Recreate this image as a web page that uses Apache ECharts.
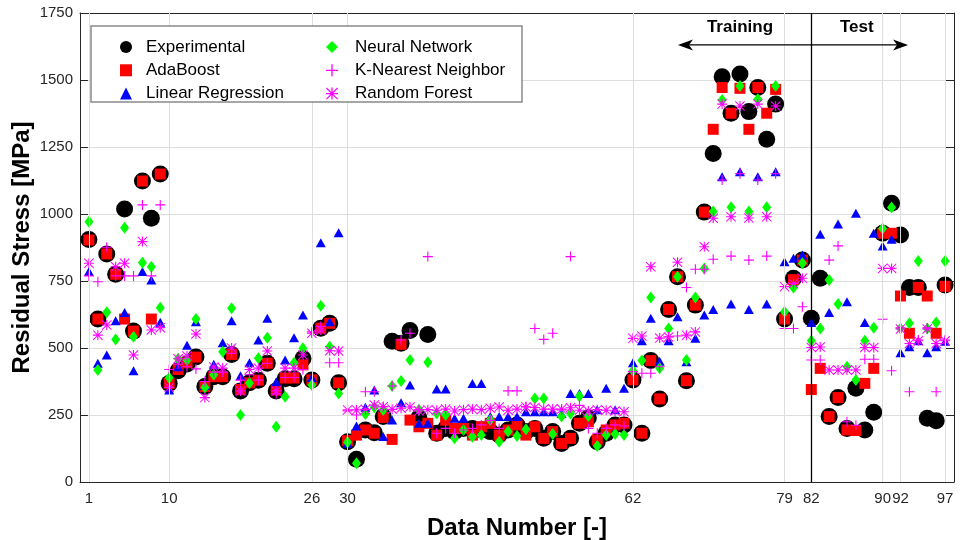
<!DOCTYPE html>
<html><head><meta charset="utf-8">
<script src="https://cdn.jsdelivr.net/npm/echarts@6/dist/echarts.min.js"></script>
<style>html,body{margin:0;padding:0;background:#fff}#c{width:964px;height:540px}</style>
</head><body><div id="c"></div>
<script>
// ---- data ----
const dataNumbers = Array.from({length: 97}, (_, i) => i + 1);
const xTickValues = [1, 10, 26, 30, 62, 79, 82, 90, 92, 97];
const trainTestSplit = 82;

const experimental = [905,608,851,775,1019,563,1123,984,1149,368,
415,440,466,356,393,393,476,340,370,380,
443,340,385,385,461,381,574,592,370,150,
85,194,184,244,525,518,565,240,550,182,
200,188,200,200,195,188,175,194,213,188,
200,163,188,144,163,219,240,150,182,213,
213,381,182,453,310,644,766,378,660,1007,
1226,1512,1376,1522,1382,1472,1279,1410,608,760,
828,611,760,244,315,200,350,194,260,928,
1040,922,726,726,238,229,735];

const adaBoost = [903,608,851,775,608,563,1123,608,1149,368,
420,445,466,356,393,393,476,345,370,380,
443,343,388,388,437,381,574,592,370,154,
175,194,182,241,159,514,231,206,219,175,
231,200,200,175,206,219,175,194,213,175,
206,163,188,144,163,219,225,157,194,213,
219,381,182,453,310,644,766,378,660,1007,
1316,1472,1376,1469,1316,1472,1376,1465,608,755,
828,345,424,244,315,194,192,368,424,928,
928,694,555,726,694,555,730];

const linearRegression = [785,443,474,602,632,415,785,754,596,343,
430,510,598,360,439,520,602,396,445,530,
611,374,455,538,623,390,893,598,930,145,
209,279,343,170,231,296,362,219,219,347,
347,238,238,368,368,244,244,244,244,262,
262,262,262,256,330,330,330,270,350,270,
350,445,527,611,451,527,617,449,536,623,
644,1139,664,1158,644,1139,664,1158,822,835,
847,595,924,632,963,673,1003,595,928,881,
906,482,505,527,482,505,525];

const neuralNetwork = [971,418,633,532,949,542,818,803,650,389,
460,455,608,353,400,486,648,250,369,462,
538,206,318,445,499,362,658,505,330,148,
70,254,279,269,358,377,455,270,447,256,
250,163,194,169,175,231,150,188,172,197,
312,312,179,244,256,320,246,134,175,179,
175,415,453,688,424,573,766,455,688,797,
1009,1425,1025,1478,1009,1428,1025,1478,635,726,
816,527,573,754,664,430,381,527,576,946,
1024,573,592,825,573,595,825];

const kNearestNeighbor = [769,747,876,769,769,769,1034,769,1034,420,
440,430,422,375,410,410,480,380,400,380,
443,329,390,390,420,560,580,445,445,265,
250,337,337,281,358,530,555,270,841,182,
200,182,194,200,213,230,200,340,340,281,
573,532,555,269,841,286,200,182,200,213,
209,412,406,406,430,542,545,726,794,794,
831,1127,843,1150,828,1127,843,1150,573,573,
654,455,455,828,881,225,212,458,458,607,
415,575,337,530,575,337,530];

const randomForest = [816,548,586,803,816,474,897,567,576,353,
460,470,552,315,429,425,500,340,420,425,
489,340,425,425,474,555,567,490,489,269,
269,271,287,281,271,275,280,265,270,268,
272,265,270,272,270,275,280,268,272,280,
278,272,272,272,277,268,265,270,268,265,
262,536,545,803,537,541,820,548,560,878,
984,1410,990,1403,985,1410,990,1403,729,741,
760,502,504,418,418,418,418,502,502,797,
797,571,517,527,571,517,527];

// annotation anchor positions (data space)
const arrowStartX = 67.05, arrowEndX = 92.85, arrowY = 1631;
const trainingLabelX = 74.0, testLabelX = 87.1, phaseLabelY = 1698;

// ---- rendering ----
const FONT = "'Liberation Sans', Arial, Helvetica, sans-serif";
const AX = '#262626';
const GRID = '#dedede';
const plusPath = 'path://M4.45,0H5.55V4.45H10V5.55H5.55V10H4.45V5.55H0V4.45H4.45Z';
const starPath = 'path://M4.45,0H5.55V4.45H10V5.55H5.55V10H4.45V5.55H0V4.45H4.45Z' +
  'M0.7,0L10,9.3L9.3,10L0,0.7Z M9.3,0L10,0.7L0.7,10L0,9.3Z';

const pairs = vals => vals.map((v, i) => [dataNumbers[i], v]);

function sc(name, values, symbol, size, color) {
  return {
    name, type: 'scatter', data: pairs(values), symbol, symbolSize: size,
    itemStyle: { color, opacity: 1 }, emphasis: { disabled: true }, z: 3, silent: true
  };
}

const legendText = { fontSize: 17, lineHeight: 18, color: '#000', fontFamily: FONT };

const option = {
  animation: false,
  backgroundColor: '#fff',
  textStyle: { fontFamily: FONT },
  grid: { left: 80, right: 10, top: 13, bottom: 58, outerBoundsMode: 'none' },
  legend: [
    { data: ['Experimental', 'AdaBoost', 'Linear Regression'], orient: 'vertical',
      left: 115, top: 33, itemWidth: 12, itemHeight: 12, itemGap: 5.3, selectedMode: false,
      textStyle: Object.assign({ padding: [0, 0, 0, 9] }, legendText), z: 6 },
    { data: ['Neural Network', 'K-Nearest Neighbor', 'Random Forest'], orient: 'vertical',
      left: 321, top: 33, itemWidth: 12, itemHeight: 12, itemGap: 5.3, selectedMode: false,
      textStyle: Object.assign({ padding: [0, 0, 0, 12] }, legendText), z: 6 }
  ],
  xAxis: [
    { type: 'value', min: 0, max: 98, position: 'bottom',
      axisLine: { show: true, onZero: false, lineStyle: { color: AX, width: 1 } },
      axisTick: { show: true, inside: true, length: 8, customValues: xTickValues, lineStyle: { color: AX } },
      axisLabel: { show: true, customValues: xTickValues, fontSize: 15, color: AX, margin: 9, fontFamily: FONT,
        formatter: v => String(v) },
      splitLine: { show: false },
      name: 'Data Number [-]', nameLocation: 'middle', nameGap: 34, nameMoveOverlap: false,
      nameTextStyle: { fontSize: 24, fontWeight: 'bold', color: '#000', fontFamily: FONT } },
    { type: 'value', min: 0, max: 98, position: 'top',
      axisLine: { show: true, onZero: false, lineStyle: { color: AX, width: 1 } },
      axisTick: { show: true, inside: true, length: 8, customValues: xTickValues, lineStyle: { color: AX } },
      axisLabel: { show: false }, splitLine: { show: false } }
  ],
  yAxis: [
    { type: 'value', min: 0, max: 1750, interval: 250, position: 'left',
      axisLine: { show: true, onZero: false, lineStyle: { color: AX, width: 1 } },
      axisTick: { show: true, inside: true, length: 8, lineStyle: { color: AX } },
      axisLabel: { fontSize: 15, color: AX, margin: 7, fontFamily: FONT, formatter: v => String(v) },
      splitLine: { show: true, lineStyle: { color: GRID, width: 1 } },
      name: 'Residual Stress [MPa]', nameLocation: 'middle', nameGap: 46, nameMoveOverlap: false,
      nameTextStyle: { fontSize: 24, fontWeight: 'bold', color: '#000', fontFamily: FONT } },
    { type: 'value', min: 0, max: 1750, interval: 250, position: 'right',
      axisLine: { show: true, onZero: false, lineStyle: { color: AX, width: 1 } },
      axisTick: { show: true, inside: true, length: 8, lineStyle: { color: AX } },
      axisLabel: { show: false }, splitLine: { show: false } }
  ],
  series: [
    { type: 'scatter', data: [], z: 1, silent: true,
      markLine: { silent: true, symbol: 'none', animation: false, label: { show: false },
        lineStyle: { color: GRID, width: 1, type: 'solid' },
        emphasis: { disabled: true },
        data: xTickValues.filter(v => v !== trainTestSplit).map(v => ({ xAxis: v })) } },
    { type: 'scatter', data: [], z: 1, silent: true,
      markLine: { silent: true, symbol: 'none', animation: false, label: { show: false },
        lineStyle: { color: '#000', width: 1.3, type: 'solid' },
        emphasis: { disabled: true },
        data: [{ xAxis: trainTestSplit }] } },
    sc('Experimental', experimental, 'circle', 17, '#000000'),
    sc('AdaBoost', adaBoost, 'rect', 11, '#ff0000'),
    sc('Linear Regression', linearRegression, 'triangle', [10, 9], '#0000ff'),
    sc('Neural Network', neuralNetwork, 'diamond', [9, 12], '#00ff00'),
    sc('K-Nearest Neighbor', kNearestNeighbor, plusPath, 10, '#ff00ff'),
    sc('Random Forest', randomForest, starPath, 10, '#ff00ff')
  ]
};

const chart = echarts.init(document.getElementById('c'), null, { renderer: 'canvas' });
chart.setOption(option);

const px = (x, y) => chart.convertToPixel({ xAxisIndex: 0, yAxisIndex: 0 }, [x, y]);
const a0 = px(arrowStartX, arrowY), a1 = px(arrowEndX, arrowY);
const tl = px(trainingLabelX, phaseLabelY), ts = px(testLabelX, phaseLabelY);
const headL = 15, headH = 5.5, notch = 4;
chart.setOption({
  graphic: { elements: [
    { type: 'rect', z: 5, shape: { x: 91, y: 26, width: 431, height: 76 },
      style: { fill: '#fff', stroke: '#8a8a8a', lineWidth: 1.5 } },
    { type: 'line', z: 5, shape: { x1: a0[0] + headL - notch, y1: a0[1], x2: a1[0] - headL + notch, y2: a1[1] },
      style: { stroke: '#000', lineWidth: 1.2 } },
    { type: 'polygon', z: 5, shape: { points: [[a0[0], a0[1]], [a0[0] + headL, a0[1] - headH], [a0[0] + headL - notch, a0[1]], [a0[0] + headL, a0[1] + headH]] },
      style: { fill: '#000' } },
    { type: 'polygon', z: 5, shape: { points: [[a1[0], a1[1]], [a1[0] - headL, a1[1] - headH], [a1[0] - headL + notch, a1[1]], [a1[0] - headL, a1[1] + headH]] },
      style: { fill: '#000' } },
    { type: 'text', z: 5, x: tl[0], y: tl[1],
      style: { text: 'Training', fill: '#000', font: "bold 17px " + FONT, align: 'center', verticalAlign: 'middle' } },
    { type: 'text', z: 5, x: ts[0], y: ts[1],
      style: { text: 'Test', fill: '#000', font: "bold 17px " + FONT, align: 'center', verticalAlign: 'middle' } }
  ] }
});
</script>
</body></html>
